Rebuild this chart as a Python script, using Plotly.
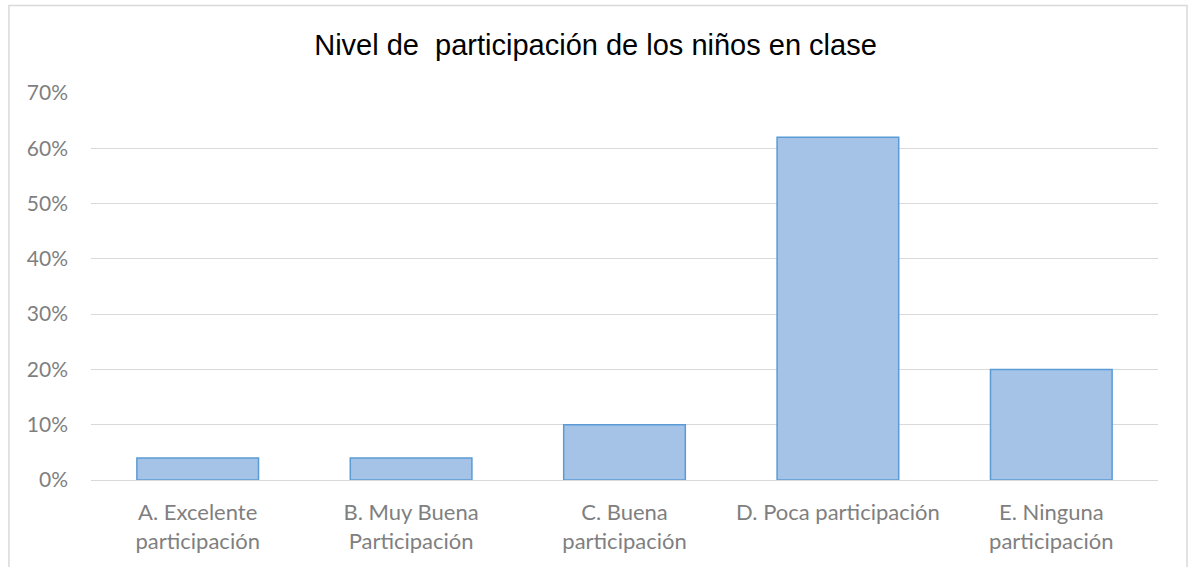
import plotly.graph_objects as go

categories = ["A. Excelente<br>participación", "B. Muy Buena<br>Participación",
              "C. Buena<br>participación", "D. Poca participación",
              "E. Ninguna<br>participación"]
values = [0.04, 0.04, 0.10, 0.62, 0.20]
title_text = "Nivel de  participación de los niños en clase"

fig = go.Figure()
fig.add_trace(go.Bar(
    x=categories, y=values,
    marker=dict(color="#a5c3e7", line=dict(color="#5b9bd5", width=1.5)),
    width=0.57,
))

fig.update_layout(
    width=1191, height=567,
    margin=dict(l=91, r=33, t=93, b=87),
    paper_bgcolor="white", plot_bgcolor="white",
    showlegend=False,
    title=dict(text=title_text, x=0.5, xanchor="center", y=0.921, yanchor="middle",
               font=dict(family="Liberation Sans, Arial", size=29, color="#000000")),
    font=dict(family="Lato, Calibri, sans-serif", size=21, color="#7f7f7f"),
    yaxis=dict(range=[0, 0.7], dtick=0.1, tickformat=".0%", showgrid=True,
               gridcolor="#d9d9d9", gridwidth=1, zeroline=False, showline=False,
               ticklabelstandoff=22, fixedrange=True),
    xaxis=dict(showgrid=False, showline=True, linecolor="#d9d9d9", linewidth=1,
               ticks="", ticklabelstandoff=13, tickangle=0,
               tickfont=dict(size=22)),
    shapes=[dict(type="rect", xref="paper", yref="paper",
                 x0=-0.0769, x1=1.0272, y0=-0.25, y1=1.226,
                 line=dict(color="#d9d9d9", width=1.5), layer="below")],
)

fig.write_html("out.html", config={"displayModeBar": False},
               post_script="document.body.style.margin='0';")
